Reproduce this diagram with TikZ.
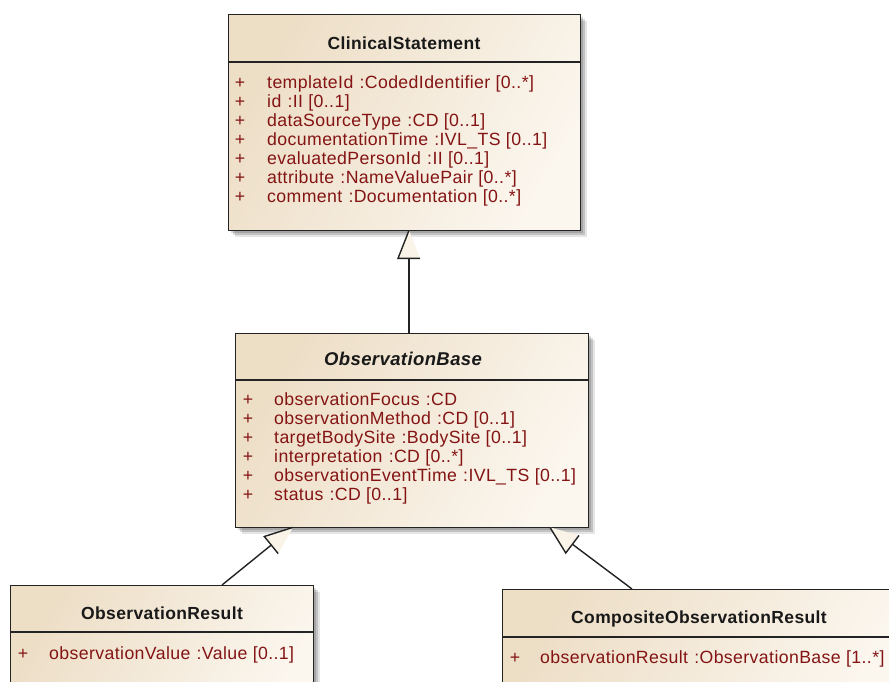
\documentclass[tikz,border=0pt]{standalone}
\usepackage{fontspec}
\usetikzlibrary{calc}
\newfontfamily\umlfont{Liberation Sans}[LetterSpace=2.2]

\definecolor{boxdark}{RGB}{237,222,198}
\definecolor{boxlight}{RGB}{251,246,238}
\definecolor{attrred}{RGB}{132,20,20}
\definecolor{edgecol}{RGB}{35,35,35}
\definecolor{genfillcol}{RGB}{250,243,232}

\tikzset{
  classbox/.style={draw=edgecol, line width=1.4pt, left color=boxdark,
    right color=boxlight, shading angle=60, inner sep=0pt, anchor=north west},
  classtitle/.style={anchor=base, inner sep=0pt, text=black!90,
    font=\umlfont\bfseries\fontsize{17.5}{20}\selectfont},
  plusmark/.style={anchor=base, inner sep=0pt, text=attrred,
    font=\umlfont\fontsize{17.7}{19}\selectfont},
  attrtext/.style={anchor=base west, inner sep=0pt, text=attrred,
    font=\umlfont\fontsize{17.7}{19}\selectfont},
  sepline/.style={draw=edgecol, line width=1.1pt},
  conn/.style={draw=edgecol, line width=1.4pt},
  genfill/.style={fill=genfillcol},
}

% soft drop shadow under a class box
\newcommand{\classshadow}[1]{%
  \fill[black, opacity=0.10] ([shift={(7pt,-7pt)}]#1.south west) rectangle ([shift={(7pt,-7pt)}]#1.north east);
  \fill[black, opacity=0.15] ([shift={(5pt,-5pt)}]#1.south west) rectangle ([shift={(5pt,-5pt)}]#1.north east);
  \fill[black, opacity=0.15] ([shift={(3pt,-3pt)}]#1.south west) rectangle ([shift={(3pt,-3pt)}]#1.north east);
}

% generalization: hollow triangle at the parent (#1), line to the child (#2)
\newcommand{\umlgen}[2]{%
  \path ($(#1)!28pt!(#2)$) coordinate (#1-b);
  \path ($(#1-b)!11pt!-90:(#2)$) coordinate (#1-p);
  \path ($(#1-b)!11pt!90:(#2)$) coordinate (#1-q);
  \fill[genfill] (#1) -- (#1-p) -- (#1-q) -- cycle;
  \draw[conn, line join=miter] (#1) -- (#1-p) -- (#1-q);
  \draw[conn] (#1-b) -- (#2);
}

\begin{document}
\begin{tikzpicture}[x=1pt, y=-1pt]
\useasboundingbox (0,0) rectangle (889,681);
\fill[white] (0,0) rectangle (889,681);
\clip (0,0) rectangle (889,681);

% ---- class boxes (placed first so their anchors exist) ----
\path (228,14) node[inner sep=0pt, minimum width=352pt, minimum height=216pt, anchor=north west] (cs) {};
\path (235,333) node[inner sep=0pt, minimum width=353pt, minimum height=194pt, anchor=north west] (ob) {};
\path (10,585) node[inner sep=0pt, minimum width=303pt, minimum height=130pt, anchor=north west] (or) {};
\path (502,589) node[inner sep=0pt, minimum width=394pt, minimum height=130pt, anchor=north west] (cor) {};

% shadows, then the shaded boxes on top
\classshadow{cs}
\classshadow{ob}
\classshadow{or}
\node[classbox, minimum width=352pt, minimum height=216pt] at (228,14) {};
\node[classbox, minimum width=353pt, minimum height=194pt] at (235,333) {};
\node[classbox, minimum width=303pt, minimum height=130pt] at (10,585) {};
\node[classbox, minimum width=394pt, minimum height=130pt] at (502,589) {};

% ---- header separators ----
\draw[sepline] ([yshift=-48pt]cs.north west) -- ([yshift=-48pt]cs.north east);
\draw[sepline] ([yshift=-47pt]ob.north west) -- ([yshift=-47pt]ob.north east);
\draw[sepline] ([yshift=-47pt]or.north west) -- ([yshift=-47pt]or.north east);
\draw[sepline] ([yshift=-48pt]cor.north west) -- ([yshift=-48pt]cor.north east);

% ---- titles ----
\node[classtitle] (cs-title) at (404,49) {ClinicalStatement};
\node[classtitle, font=\umlfont\bfseries\itshape\fontsize{18.5}{20}\selectfont] (ob-title) at (403,365) {ObservationBase};
\node[classtitle] (or-title) at (162,619) {ObservationResult};
\node[classtitle] (cor-title) at (699,623) {CompositeObservationResult};

% ---- attributes ----
\foreach \txt [count=\i from 0] in {
  templateId\hspace{0.35em}:CodedIdentifier [0..*],
  id\hspace{0.35em}:II [0..1],
  dataSourceType\hspace{0.35em}:CD [0..1],
  documentationTime\hspace{0.35em}:IVL\_TS [0..1],
  evaluatedPersonId\hspace{0.35em}:II [0..1],
  attribute\hspace{0.35em}:NameValuePair [0..*],
  comment\hspace{0.35em}:Documentation [0..*]}{
  \node[plusmark] (cs-p\i) at (240,88+19*\i) {+};
  \node[attrtext] (cs-a\i) at (267,88+19*\i) {\txt};
}
\foreach \txt [count=\i from 0] in {
  observationFocus\hspace{0.35em}:CD,
  observationMethod\hspace{0.35em}:CD [0..1],
  targetBodySite\hspace{0.35em}:BodySite [0..1],
  interpretation\hspace{0.35em}:CD [0..*],
  observationEventTime\hspace{0.35em}:IVL\_TS [0..1],
  status\hspace{0.35em}:CD [0..1]}{
  \node[plusmark] (ob-p\i) at (248,405.5+19*\i) {+};
  \node[attrtext] (ob-a\i) at (274,405.5+19*\i) {\txt};
}
\node[plusmark] (or-p0) at (23,659) {+};
\node[attrtext] (or-a0) at (49,659) {observationValue\hspace{0.35em}:Value [0..1]};
\node[plusmark] (cor-p0) at (515,663) {+};
\node[attrtext] (cor-a0) at (540,663) {observationResult\hspace{0.35em}:ObservationBase [1..*]};

% ---- generalizations ----
\coordinate (gx1) at (409,0);
\coordinate (g1) at (gx1 |- cs.south);
\coordinate (g1end) at (gx1 |- ob.north);
\umlgen{g1}{g1end}

\coordinate (gx2) at (293,0);
\coordinate (gx2e) at (222,0);
\coordinate (g2) at (gx2 |- ob.south);
\coordinate (g2end) at (gx2e |- or.north);
\umlgen{g2}{g2end}

\coordinate (gx3) at (550,0);
\coordinate (gx3e) at (632,0);
\coordinate (g3) at (gx3 |- ob.south);
\coordinate (g3end) at (gx3e |- cor.north);
\umlgen{g3}{g3end}
\end{tikzpicture}
\end{document}
